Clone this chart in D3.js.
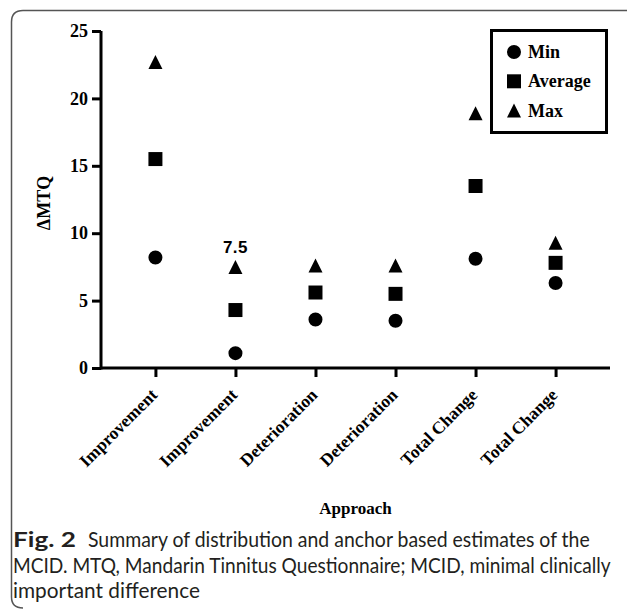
<!DOCTYPE html>
<html><head><meta charset="utf-8">
<script src="https://cdn.jsdelivr.net/npm/d3@7"></script>
<style>body{margin:0;background:#fff}svg{display:block}</style>
</head><body>
<script>
const categories = ["Improvement","Improvement","Deterioration","Deterioration","Total Change","Total Change"];
const minValues = [8.2, 1.1, 3.6, 3.5, 8.1, 6.3];
const avgValues = [15.5, 4.3, 5.6, 5.5, 13.5, 7.8];
const maxValues = [22.7, 7.5, 7.6, 7.6, 18.9, 9.3];
const yTicks = [0, 5, 10, 15, 20, 25];
const legendLabels = ["Min", "Average", "Max"];
const annotation = {index: 1, text: "7.5"};
const captionBold = "Fig. 2";
const captionLines = [
  "Summary of distribution and anchor based estimates of the",
  "MCID. MTQ, Mandarin Tinnitus Questionnaire; MCID, minimal clinically",
  "important difference"
];

const W = 627, H = 612;
const svg = d3.select("body").append("svg").attr("width", W).attr("height", H);

// frame
svg.append("path")
  .attr("d", "M627,10.5 L23,10.5 Q11.5,10.5 11.5,22 L11.5,597 Q11.5,608 23,608")
  .attr("fill", "none").attr("stroke", "#555").attr("stroke-width", 1.5);

const serif = "'Liberation Serif','Times New Roman',serif";
const x = d3.scalePoint().domain(d3.range(categories.length)).range([101, 610]).padding(0.68);
const y = d3.scaleLinear().domain([0, 25]).range([368, 31]);

// axes
const yAxis = svg.append("g").attr("transform", "translate(101,0)")
  .call(d3.axisLeft(y).tickValues(yTicks).tickSize(9).tickPadding(4));
const xAxis = svg.append("g").attr("transform", "translate(0,368)")
  .call(d3.axisBottom(x).tickSize(9).tickFormat(""));
[yAxis, xAxis].forEach(g => {
  g.select(".domain").attr("stroke", "#000").attr("stroke-width", 3);
  g.selectAll(".tick line").attr("stroke", "#000").attr("stroke-width", 3);
});
xAxis.select(".domain").attr("d", "M101,0H610");
yAxis.select(".domain").attr("d", "M0,31V369.5");
yAxis.selectAll(".tick text").attr("font-family", serif).attr("font-weight", "bold")
  .attr("font-size", 18).attr("fill", "#000");

// x labels
svg.append("g").selectAll("text").data(categories).join("text")
  .attr("transform", (d, i) => `translate(${x(i) + 3},${396}) rotate(-45)`)
  .attr("text-anchor", "end")
  .attr("font-family", serif).attr("font-weight", "bold").attr("font-size", 17.5)
  .text(d => d);

// axis titles
svg.append("text").attr("transform", "translate(50,203) rotate(-90)")
  .attr("text-anchor", "middle").attr("font-family", serif).attr("font-weight", "bold")
  .attr("font-size", 18).text("ΔMTQ");
svg.append("text").attr("x", (101 + 610) / 2).attr("y", 514).attr("text-anchor", "middle")
  .attr("font-family", serif).attr("font-weight", "bold").attr("font-size", 17).text("Approach");

// markers (triangle centred on its bounding box, like Prism)
const triBox = {
  draw(ctx, size) {
    const a = Math.sqrt(size);
    ctx.moveTo(0, -a / 2);
    ctx.lineTo(a / 2, a / 2);
    ctx.lineTo(-a / 2, a / 2);
    ctx.closePath();
  }
};
const sym = {
  circle: d3.symbol().type(d3.symbolCircle).size(154),
  square: d3.symbol().type(d3.symbolSquare).size(196),
  triangle: d3.symbol().type(triBox).size(196)
};
const series = [
  {vals: minValues, s: sym.circle},
  {vals: avgValues, s: sym.square},
  {vals: maxValues, s: sym.triangle}
];
series.forEach(se => {
  svg.append("g").selectAll("path").data(se.vals).join("path")
    .attr("transform", (d, i) => `translate(${x(i)},${y(d)})`)
    .attr("d", se.s()).attr("fill", "#000");
});

// annotation
svg.append("text").attr("x", x(annotation.index)).attr("y", y(maxValues[annotation.index]) - 14)
  .attr("text-anchor", "middle").attr("font-family", "'Liberation Sans',Arial,sans-serif")
  .attr("font-weight", "bold").attr("font-size", 17).attr("letter-spacing", 0.5).text(annotation.text);

// legend
const lg = svg.append("g");
lg.append("rect").attr("x", 491.5).attr("y", 30.5).attr("width", 115).attr("height", 102)
  .attr("fill", "#fff").attr("stroke", "#000").attr("stroke-width", 3);
const legSyms = [sym.circle, sym.square, sym.triangle];
legendLabels.forEach((l, i) => {
  const cy = 52 + i * 29.3;
  lg.append("path").attr("transform", `translate(514,${cy})`).attr("d", legSyms[i]()).attr("fill", "#000");
  lg.append("text").attr("x", 528).attr("y", cy + 6).attr("font-family", serif)
    .attr("font-weight", "bold").attr("font-size", 18).text(l);
});

// caption: condensed by horizontal scaling to the reference line widths
const capFont = "Lato,'Open Sans','Noto Sans',sans-serif";
const capSize = 20.5;
function capText(str, x0, y0, targetW, bold) {
  const t = svg.append("text").attr("font-family", capFont).attr("font-size", capSize)
    .attr("font-weight", bold ? "bold" : null).attr("fill", "#231f20").text(str);
  const nat = t.node().getComputedTextLength();
  t.attr("transform", `translate(${x0},${y0}) scale(${targetW / nat},1)`);
}
capText(captionBold, 13, 547, 63, true);
const capX = [88, 13, 13];
const capLen = [502, 598, 187];
const capY = [547, 572.5, 597.5];
captionLines.forEach((t, i) => capText(t, capX[i], capY[i], capLen[i], false));
</script>
</body></html>
